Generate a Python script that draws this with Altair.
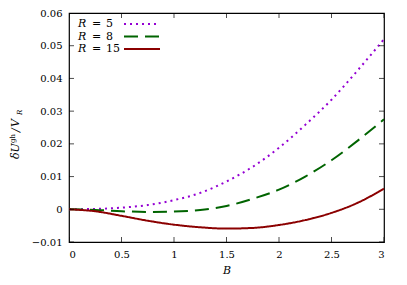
import altair as alt
import pandas as pd

# ---- data ----
B = [0, 0.25, 0.5, 0.75, 1.0, 1.25, 1.5, 1.75, 2.0, 2.25, 2.5, 2.75, 3.0]
R5 = [0, 0.0001, 0.0005, 0.0013, 0.0028, 0.0050, 0.0085, 0.0130, 0.0188, 0.0258, 0.0335, 0.0425, 0.0520]
R8 = [0, -0.0002, -0.0006, -0.0008, -0.0007, -0.0002, 0.0010, 0.0032, 0.0060, 0.0100, 0.0150, 0.0210, 0.0275]
R15 = [0, -0.0006, -0.0020, -0.0035, -0.0047, -0.0055, -0.0059, -0.0057, -0.0048, -0.0033, -0.0011, 0.0020, 0.0063]
series_names = ["R = 5", "R = 8", "R = 15"]
series_numbers = ["5", "8", "15"]
colors = ["#9400d3", "#006400", "#8b0000"]
dashes = [[2, 4], [14, 7], [1, 0]]
x_ticks = [0, 0.5, 1, 1.5, 2, 2.5, 3]
y_ticks = [-0.01, 0, 0.01, 0.02, 0.03, 0.04, 0.05, 0.06]

W, H = 315, 229
FONT = "DejaVu Serif"

rows = []
for name, vals in zip(series_names, [R5, R8, R15]):
    for b, v in zip(B, vals):
        rows.append({"B": b, "U": v, "series": name})
df = pd.DataFrame(rows)

xs = alt.Scale(domain=[0, 3], nice=False)
ys = alt.Scale(domain=[-0.01, 0.06], nice=False)

x_axis = alt.Axis(values=x_ticks, format=".1~f", title="B", titleFont=FONT,
                  titleFontStyle="italic", titleFontWeight="normal", titleFontSize=11,
                  titlePadding=5, titleColor="black",
                  ticks=False, tickSize=0, domain=False, grid=False,
                  labelFont=FONT, labelFontSize=10, labelPadding=7, labelColor="black")
y_axis = alt.Axis(values=y_ticks, format=".2~f", title=None,
                  ticks=False, tickSize=0, domain=False, grid=False,
                  labelFont=FONT, labelFontSize=10, labelPadding=7, labelColor="black")

X = alt.X("B:Q", scale=xs, axis=x_axis)
Y = alt.Y("U:Q", scale=ys, axis=y_axis)

lines = alt.Chart(df).mark_line(strokeWidth=2, interpolate="monotone", clip=True).encode(
    x=X, y=Y,
    color=alt.Color("series:N", scale=alt.Scale(domain=series_names, range=colors), legend=None),
    strokeDash=alt.StrokeDash("series:N", scale=alt.Scale(domain=series_names, range=dashes), legend=None),
)

ydf = pd.DataFrame({"U": y_ticks})
xdf = pd.DataFrame({"B": x_ticks})
tick_layers = []
for xv in [0, W]:
    tick_layers.append(alt.Chart(ydf).mark_tick(orient="horizontal", size=10, thickness=1,
                                                 color="black", clip=True).encode(y=Y, x=alt.value(xv)))
for yv in [0, H]:
    tick_layers.append(alt.Chart(xdf).mark_tick(orient="vertical", size=10, thickness=1,
                                                 color="black", clip=True).encode(x=X, y=alt.value(yv)))

# ---- key (top-left, inside) ----
one = pd.DataFrame({"k": [0]})
key_layers = []
row_y = [11, 23.5, 36]
for i, (num, col, dash) in enumerate(zip(series_numbers, colors, dashes)):
    yv = row_y[i]
    key_layers.append(alt.Chart(one).mark_text(text="R", font=FONT, fontStyle="italic", fontSize=11,
                                               align="left", baseline="middle", color="black")
                      .encode(x=alt.value(9), y=alt.value(yv)))
    key_layers.append(alt.Chart(one).mark_text(text="=", font=FONT, fontSize=11,
                                               align="left", baseline="middle", color="black")
                      .encode(x=alt.value(23), y=alt.value(yv)))
    key_layers.append(alt.Chart(one).mark_text(text=num, font=FONT, fontSize=11,
                                               align="left", baseline="middle", color="black")
                      .encode(x=alt.value(37), y=alt.value(yv)))
    key_layers.append(alt.Chart(one).mark_rule(color=col, strokeWidth=2, strokeDash=dash)
                      .encode(x=alt.value(55), x2=alt.value(91), y=alt.value(yv)))

# ---- y-axis title: δU^gh / V_R, rotated ----
title_layers = []
pieces = [
    ("δU", "italic", 11, -50, 146),
    ("gh", "normal", 7, -54.5, 130),
    ("/", "italic", 11, -50, 119),
    ("V", "italic", 11, -50, 114),
    ("R", "italic", 7, -47.5, 102),
]
for txt, style, size, xv, yv in pieces:
    title_layers.append(alt.Chart(one).mark_text(text=txt, font=FONT, fontStyle=style, fontSize=size,
                                                 angle=270, align="left", baseline="alphabetic",
                                                 color="black")
                        .encode(x=alt.value(xv), y=alt.value(yv)))

chart = alt.layer(lines, *tick_layers, *key_layers, *title_layers).properties(
    width=W, height=H,
    autosize=alt.AutoSizeParams(type="none"),
    padding={"left": 61, "top": 5, "right": 15, "bottom": 35},
).configure_view(stroke="black", strokeWidth=1.2)

chart.save("out.html", embed_options={"renderer": "svg", "actions": False})
